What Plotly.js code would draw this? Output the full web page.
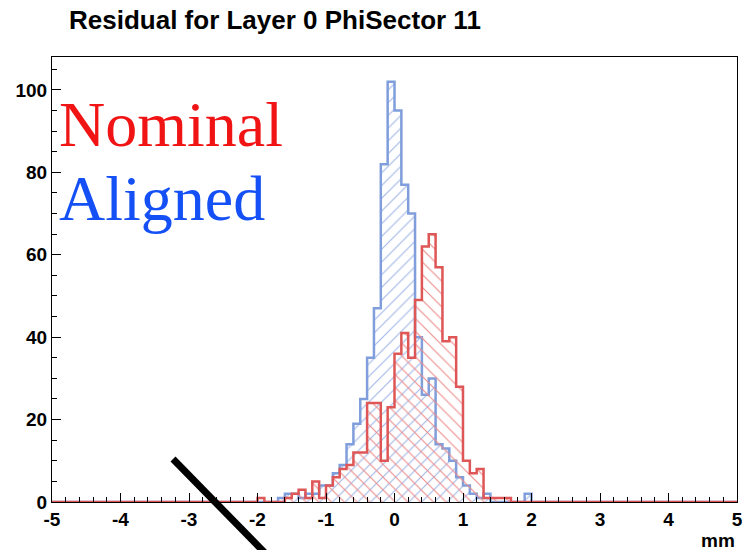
<!DOCTYPE html>
<html>
<head>
<meta charset="utf-8">
<script src="https://cdn.plot.ly/plotly-3.0.1.min.js"></script>
<style>
html,body{margin:0;padding:0;background:#fff;}
#chart{width:742px;height:550px;}
</style>
</head>
<body>
<div id="chart"></div>
<script>
// Histogram bins of width 0.1 mm, first bin starts at -2.0 mm
var binStart = -2.0;
var binWidth = 0.1;
var nominal = [1,0,0,0,1,2,3,1,5,1,4,6,8,9,12,12,24,24,10,23,
               36,41,35,49,62,65,57,39,40,28,10,7,8,1,1,1,1,0,0,0];
var aligned = [0,0,0,1,2,2,1,2,2,4,4,7,9,14,19,25,35,47,82,102,
               95,77,70,40,26,30,14,13,10,6,4,2,1,2,0,0,0,0,0,2];
var xTickVals = [-5,-4,-3,-2,-1,0,1,2,3,4,5];
var xTickText = ['-5','-4','-3','-2','-1','0','1','2','3','4','5'];
var yTickVals = [0,20,40,60,80,100];
var yTickText = ['0','20','40','60','80','100'];
var xMin = -5, xMax = 5;

function stepData(vals){
  var xs = [xMin], ys = [0];
  for (var i = 0; i < vals.length; i++){
    xs.push(+(binStart + i*binWidth).toFixed(2));
    ys.push(vals[i]);
  }
  xs.push(+(binStart + vals.length*binWidth).toFixed(2)); ys.push(0);
  xs.push(xMax); ys.push(0);
  return {x: xs, y: ys};
}

var a = stepData(aligned);
var n = stepData(nominal);

var traces = [
  {x: a.x, y: a.y, type: 'scatter', mode: 'lines',
   line: {shape: 'hv', color: '#7f9edb', width: 2.5},
   fill: 'tozeroy', fillcolor: 'rgba(0,0,0,0)',
   fillpattern: {shape: '/', fgcolor: '#9fb5e6', bgcolor: 'rgba(255,255,255,0)', size: 9, solidity: 0.12},
   hoverinfo: 'skip', showlegend: false},
  {x: n.x, y: n.y, type: 'scatter', mode: 'lines',
   line: {shape: 'hv', color: '#de5656', width: 2.5},
   fill: 'tozeroy', fillcolor: 'rgba(0,0,0,0)',
   fillpattern: {shape: '\\', fgcolor: '#ec8a8a', bgcolor: 'rgba(255,255,255,0)', size: 9, solidity: 0.12},
   hoverinfo: 'skip', showlegend: false}
];

var tickFont = {family: 'Liberation Sans, Arial, sans-serif', size: 19, color: '#000', weight: 'bold'};

var layout = {
  width: 742, height: 550,
  margin: {l: 52, r: 5, t: 57, b: 48},
  paper_bgcolor: '#fff', plot_bgcolor: '#fff',
  showlegend: false,
  title: {text: 'Residual for Layer 0 PhiSector 11', x: 69/742, xanchor: 'left', xref: 'container',
          y: 1 - 20/550, yanchor: 'middle', yref: 'container',
          font: {family: 'Liberation Sans, Arial, sans-serif', size: 26, color: '#000', weight: 'bold'}},
  xaxis: {range: [xMin, xMax], tickmode: 'array', tickvals: xTickVals, ticktext: xTickText,
          ticklabeloverflow: 'allow',
          ticks: 'inside', ticklen: 9, tickwidth: 1, tickcolor: '#000',
          minor: {dtick: 0.2, ticks: 'inside', ticklen: 5, tickcolor: '#000', tickwidth: 1, showgrid: false},
          showline: true, linecolor: '#000', linewidth: 1, mirror: true,
          showgrid: false, zeroline: false, tickfont: tickFont, fixedrange: true},
  yaxis: {range: [0, 108], tickmode: 'array', tickvals: yTickVals, ticktext: yTickText,
          ticklabeloverflow: 'allow',
          ticks: 'inside', ticklen: 9, tickwidth: 1, tickcolor: '#000',
          minor: {dtick: 5, ticks: 'inside', ticklen: 5, tickcolor: '#000', tickwidth: 1, showgrid: false},
          showline: true, linecolor: '#000', linewidth: 1, mirror: true,
          showgrid: false, zeroline: false, tickfont: tickFont, fixedrange: true},
  annotations: [
    {text: 'Nominal', xref: 'paper', yref: 'paper', x: 5/685, y: (502-124)/445, xanchor: 'left', yanchor: 'middle',
     showarrow: false, font: {family: 'Liberation Serif, Times New Roman, serif', size: 64, color: '#f01414'}},
    {text: 'Aligned', xref: 'paper', yref: 'paper', x: 5/685, y: (502-199)/445, xanchor: 'left', yanchor: 'middle',
     showarrow: false, font: {family: 'Liberation Serif, Times New Roman, serif', size: 64, color: '#1450f5'}},
    {text: 'mm', xref: 'paper', yref: 'paper', x: 1, y: -38/445, xanchor: 'right', yanchor: 'middle',
     showarrow: false, font: {family: 'Liberation Sans, Arial, sans-serif', size: 19, color: '#000', weight: 'bold'}}
  ],
  shapes: [
    {type: 'line', xref: 'paper', yref: 'paper', x0: (173-52)/685, y0: (502-459)/445, x1: (265-52)/685, y1: (502-553)/445,
     line: {color: '#000', width: 7}, layer: 'above'}
  ]
};

Plotly.newPlot('chart', traces, layout, {displayModeBar: false, staticPlot: true});
</script>
</body>
</html>
